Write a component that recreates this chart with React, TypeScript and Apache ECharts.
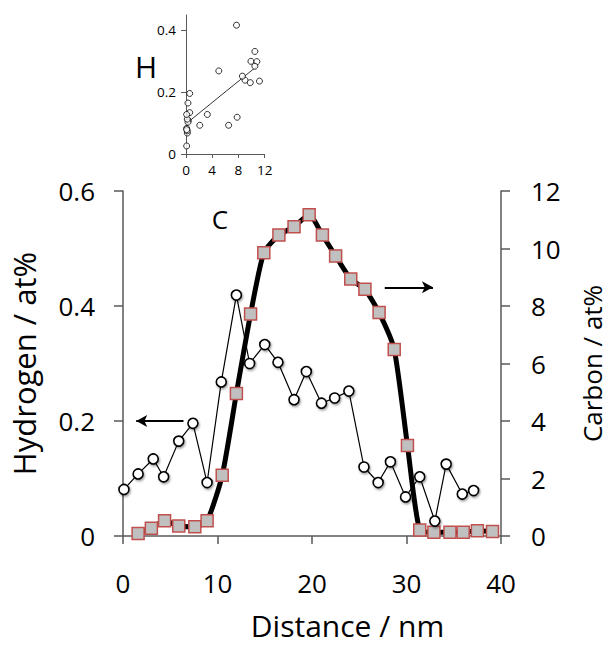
import React, { useEffect, useRef } from "react";
import * as echarts from "echarts";

const hDist = [0.1, 1.6, 3.2, 4.3, 5.9, 7.4, 8.9, 10.4, 12.0, 13.4, 15.0, 16.4, 18.1, 19.4, 21.0, 22.4, 23.9, 25.5, 27.0, 28.3, 29.9, 31.4, 33.0, 34.2, 35.9, 37.1];
const hydrogen = [0.081, 0.108, 0.134, 0.103, 0.165, 0.196, 0.093, 0.268, 0.419, 0.300, 0.333, 0.302, 0.237, 0.286, 0.231, 0.240, 0.252, 0.120, 0.093, 0.129, 0.068, 0.103, 0.026, 0.125, 0.073, 0.079];

const cDist = [1.6, 3.0, 4.4, 5.9, 7.6, 8.9, 10.5, 12.0, 13.5, 14.9, 16.5, 18.1, 19.7, 21.1, 22.5, 24.1, 25.6, 27.1, 28.7, 30.1, 31.4, 32.9, 34.6, 36.0, 37.5, 39.1];
const carbon = [0.09, 0.27, 0.53, 0.35, 0.32, 0.53, 2.11, 4.96, 7.72, 9.85, 10.47, 10.76, 11.17, 10.47, 9.74, 8.94, 8.58, 7.77, 6.49, 3.15, 0.21, 0.13, 0.13, 0.13, 0.18, 0.16];

// inset: hydrogen (y) vs carbon (x)
const insetC = [0.1, 0.35, 0.56, 0.3, 0.3, 0.56, 2.1, 5.0, 7.7, 9.9, 10.5, 10.8, 9.0, 10.5, 9.8, 11.2, 8.6, 7.8, 6.5, 3.25, 0.2, 0.2, 0.1, 0.1, 0.2, 0.1];
const insetH = [0.083, 0.108, 0.134, 0.103, 0.165, 0.196, 0.093, 0.269, 0.417, 0.300, 0.332, 0.299, 0.239, 0.284, 0.231, 0.236, 0.252, 0.119, 0.093, 0.128, 0.068, 0.113, 0.026, 0.128, 0.075, 0.079];
const trendC = [0.3, 10.8];
const trendH = [0.103, 0.284];

const mainXTicks = { min: 0, max: 40, interval: 10 };
const hTicks = { min: 0, max: 0.6, interval: 0.2 };
const cTicks = { min: 0, max: 12, interval: 2 };
const insetXTicks = { min: 0, max: 12, interval: 4 };
const insetYLabels = [0, 0.2, 0.4];

const FONT = "Open Sans";
const AXIS = "#595959";

export default function App() {
  const ref = useRef<HTMLDivElement>(null);
  useEffect(() => {
    if (!ref.current) return;
    const chart = echarts.init(ref.current, null, { renderer: "svg" });
    const circleStyle = {
      color: "#ffffff",
      borderColor: "#000000",
      borderWidth: 1.6,
      shadowColor: "rgba(0,0,0,0.4)",
      shadowBlur: 2,
      shadowOffsetX: 1,
      shadowOffsetY: 1.5,
    };
    const option: any = {
      animation: false,
      textStyle: { fontFamily: FONT },
      grid: [
        { left: 121, top: 191, width: 390, height: 345 },
        { left: 186, top: 15, width: 78.7, height: 139 },
      ],
      xAxis: [
        {
          type: "value",
          gridIndex: 0,
          ...mainXTicks,
          axisLine: { show: true, onZero: false, lineStyle: { color: AXIS, width: 1.5 } },
          axisTick: { show: true, inside: false, length: 8, lineStyle: { color: AXIS, width: 1.5 } },
          axisLabel: { fontSize: 26, color: "#000", margin: 34, fontFamily: FONT },
          splitLine: { show: false },
        },
        {
          type: "value",
          gridIndex: 1,
          ...insetXTicks,
          axisLine: { show: true, onZero: false, lineStyle: { color: AXIS, width: 1 } },
          axisTick: { show: true, inside: false, length: 4, lineStyle: { color: AXIS, width: 1 } },
          axisLabel: { fontSize: 13.5, color: "#000", margin: 9, fontFamily: FONT },
          splitLine: { show: false },
        },
      ],
      yAxis: [
        {
          type: "value",
          gridIndex: 0,
          ...hTicks,
          position: "left",
          name: "Hydrogen / at%",
          nameLocation: "middle",
          nameRotate: 90,
          nameGap: 84,
          nameTextStyle: { fontSize: 31, color: "#000", fontFamily: FONT },
          axisLine: { show: true, onZero: false, lineStyle: { color: AXIS, width: 1.5 } },
          axisTick: { show: true, inside: false, length: 9, lineStyle: { color: AXIS, width: 1.5 } },
          axisLabel: { fontSize: 26, color: "#000", margin: 28, fontFamily: FONT },
          splitLine: { show: false },
        },
        {
          type: "value",
          gridIndex: 0,
          ...cTicks,
          position: "right",
          name: "Carbon / at%",
          nameLocation: "middle",
          nameRotate: 90,
          nameGap: 78,
          nameTextStyle: { fontSize: 26, color: "#000", fontFamily: FONT },
          axisLine: { show: true, onZero: false, lineStyle: { color: AXIS, width: 1.5 } },
          axisTick: { show: true, inside: false, length: 9, lineStyle: { color: AXIS, width: 1.5 } },
          axisLabel: { fontSize: 26, color: "#000", margin: 30, fontFamily: FONT },
          splitLine: { show: false },
        },
        {
          type: "value",
          gridIndex: 1,
          min: 0,
          max: 0.45,
          interval: 0.2,
          axisLine: { show: true, onZero: false, lineStyle: { color: AXIS, width: 1 } },
          axisTick: { show: true, inside: false, length: 5, customValues: insetYLabels, lineStyle: { color: AXIS, width: 1 } },
          axisLabel: { fontSize: 13.5, color: "#000", margin: 10, customValues: insetYLabels, fontFamily: FONT },
          splitLine: { show: false },
        },
      ],
      series: [
        {
          type: "line",
          xAxisIndex: 0,
          yAxisIndex: 1,
          data: cDist.map((d, i) => [d, carbon[i]]),
          smooth: 0.2,
          symbol: "rect",
          symbolSize: 12,
          showSymbol: true,
          lineStyle: { color: "#000", width: 5 },
          itemStyle: { color: "#c0c0c0", borderColor: "#c0504d", borderWidth: 1.5 },
          z: 2,
          markLine: {
            silent: true,
            symbol: ["none", "arrow"],
            symbolSize: [9, 11],
            label: { show: false },
            lineStyle: { color: "#000", width: 2, type: "solid" },
            data: [[{ coord: [27.7, 8.65] }, { coord: [32.8, 8.65] }]],
          },
        },
        {
          type: "line",
          xAxisIndex: 0,
          yAxisIndex: 0,
          data: hDist.map((d, i) => [d, hydrogen[i]]),
          symbol: "circle",
          symbolSize: 10,
          showSymbol: true,
          lineStyle: { color: "#000", width: 1.2 },
          itemStyle: circleStyle,
          z: 3,
          markLine: {
            silent: true,
            symbol: ["none", "arrow"],
            symbolSize: [9, 11],
            label: { show: false },
            lineStyle: { color: "#000", width: 2, type: "solid" },
            data: [[{ coord: [6.4, 0.2] }, { coord: [1.4, 0.2] }]],
          },
        },
        {
          type: "line",
          xAxisIndex: 1,
          yAxisIndex: 2,
          data: trendC.map((c, i) => [c, trendH[i]]),
          showSymbol: false,
          symbol: "none",
          lineStyle: { color: "#000", width: 0.8 },
          z: 2,
        },
        {
          type: "scatter",
          xAxisIndex: 1,
          yAxisIndex: 2,
          data: insetC.map((c, i) => [c, insetH[i]]),
          symbol: "circle",
          symbolSize: 6,
          itemStyle: { color: "#ffffff", borderColor: "#000", borderWidth: 1 },
          z: 3,
        },
      ],
      graphic: [
        {
          type: "text",
          x: 146,
          y: 66,
          style: { text: "H", fontSize: 30, fontFamily: FONT, fill: "#000", align: "center", verticalAlign: "middle" },
        },
        {
          type: "text",
          x: 220,
          y: 219,
          style: { text: "C", fontSize: 26, fontFamily: FONT, fill: "#000", align: "center", verticalAlign: "middle" },
        },
        {
          type: "text",
          x: 347.5,
          y: 625,
          style: { text: "Distance / nm", fontSize: 30, fontFamily: FONT, fill: "#000", align: "center", verticalAlign: "middle" },
        },
      ],
    };
    chart.setOption(option);
    return () => chart.dispose();
  }, []);
  return (
    <div
      ref={ref}
      style={{ position: "fixed", left: 0, top: 0, width: 613, height: 645, background: "#fff" }}
    />
  );
}
